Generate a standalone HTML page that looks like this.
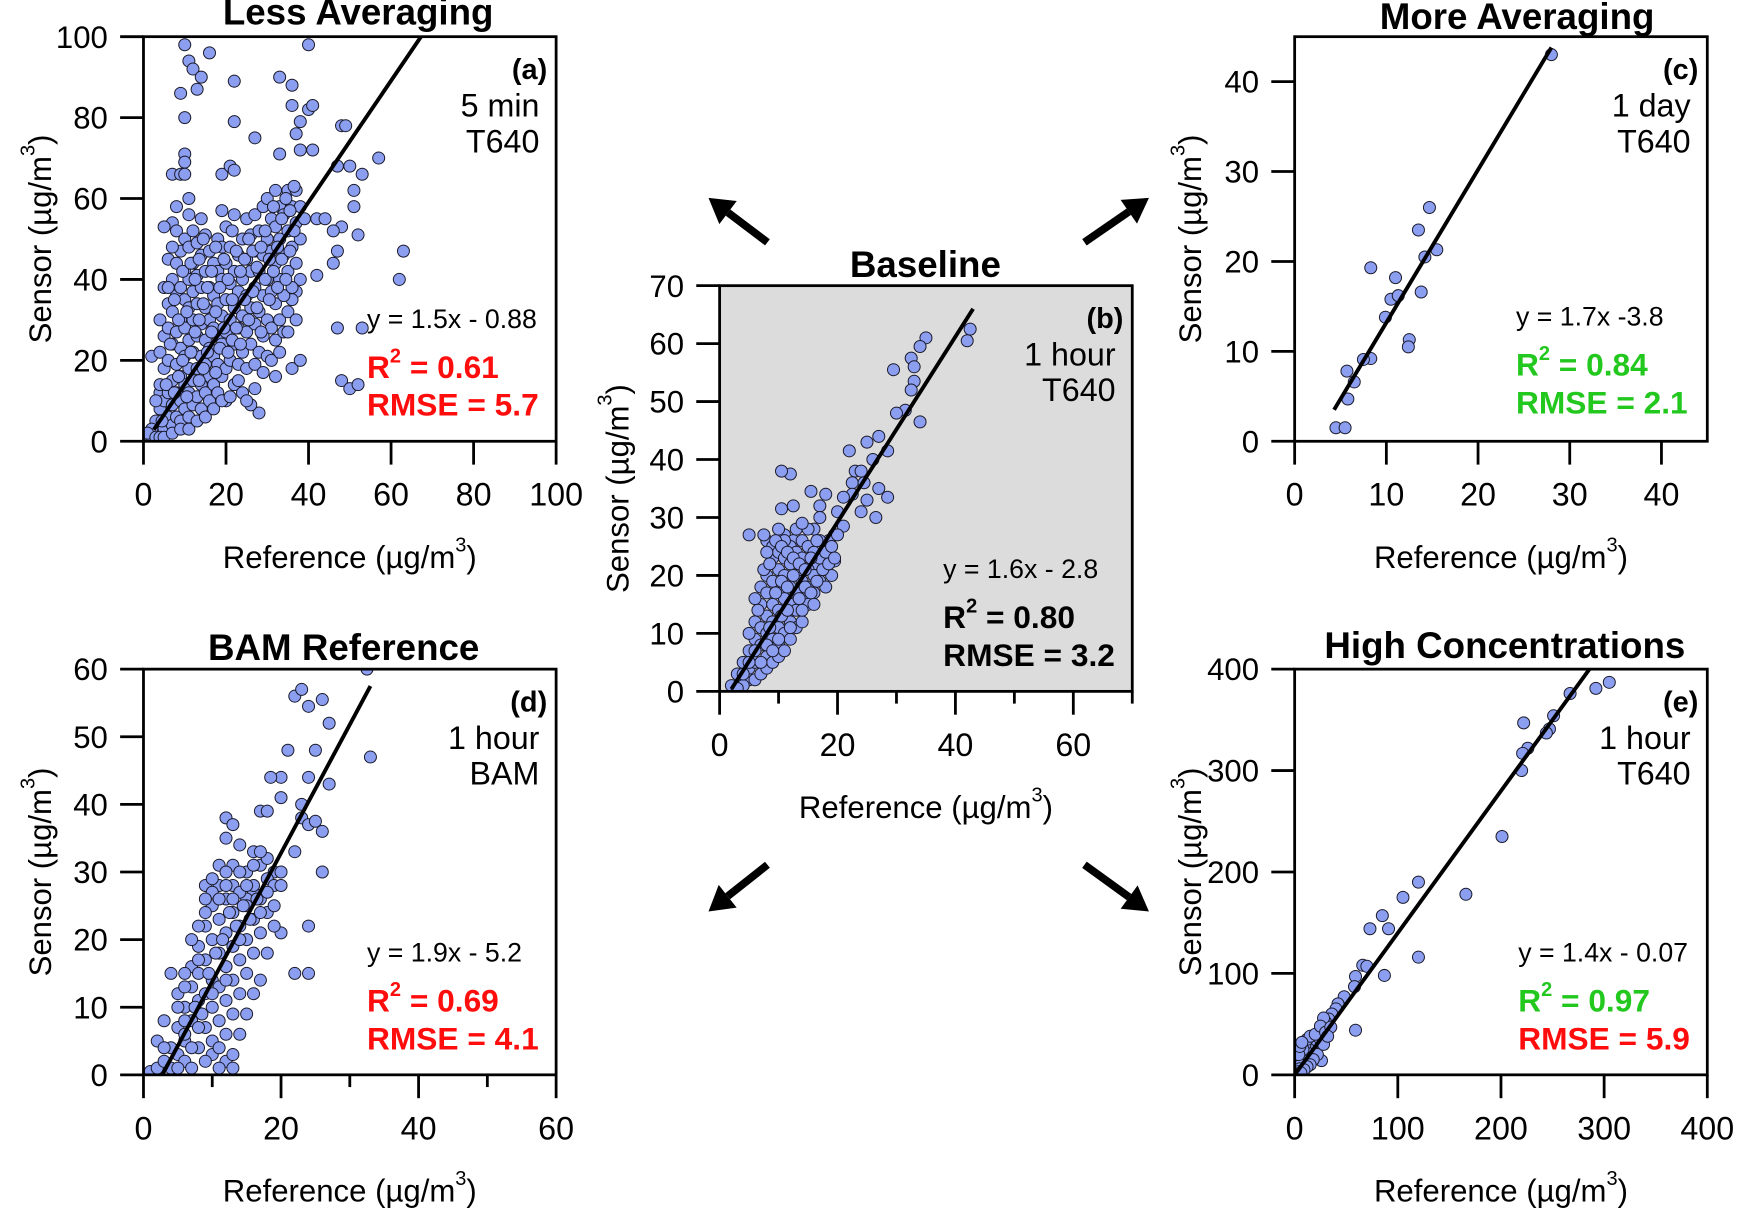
<!DOCTYPE html>
<html><head><meta charset="utf-8"><style>
html,body{margin:0;padding:0;background:#fff;}
svg{display:block;font-family:"Liberation Sans",Arial,sans-serif;}
</style></head><body>
<svg id="fig" width="1744" height="1216" viewBox="0 0 1568 1094" preserveAspectRatio="none" xmlns="http://www.w3.org/2000/svg">
<rect width="1568" height="1094" fill="#fff"/>
<g id="arrows" stroke="#000" stroke-width="7" fill="#000"></g>
</svg>
<script>
// ---- data arrays ----
const dataA = [[10,98],[40,98],[11,94],[12,92],[16,96],[14,90],[13,87],[9,86],[22,89],[33,90],[36,88],[36,83],[40,82],[41,83],[10,80],[22,79],[38,79],[37,76],[27,75],[33,71],[38,72],[41,72],[10,71],[10,69],[7,66],[9,66],[10,66],[19,66],[21,68],[22,67],[47,68],[48,78],[49,78],[50,68],[57,70],[53,66],[51,62],[51,58],[48,53],[52,51],[42,55],[44,55],[46,52],[47,47],[46,44],[42,41],[38,40],[37,37],[36,35],[47,28],[53,28],[62,40],[63,47],[48,15],[50,13],[52,14],[36,18],[38,20],[32,16],[28,7],[7,54],[5,53],[11,60],[2,21],[4,12],
[3,2],[3,5],[4,8],[4,14],[4,22],[4,30],[5,3],[5,10],[5,18],[5,26],[5,38],[6,6],[6,12],[6,20],[6,28],[6,34],[6,45],[7,4],[7,9],[7,15],[7,24],[7,32],[7,40],[8,6],[8,12],[8,19],[8,27],[8,36],[8,44],[8,52],[9,5],[9,10],[9,16],[9,23],[9,30],[9,38],[9,47],[10,8],[10,14],[10,21],[10,28],[10,35],[10,42],[10,50],[11,6],[11,12],[11,18],[11,25],[11,33],[11,40],[11,48],[11,56],[12,9],[12,15],[12,22],[12,30],[12,37],[12,44],[12,52],[13,11],[13,18],[13,26],[13,34],[13,41],[13,49],[14,8],[14,14],[14,21],[14,29],[14,38],[14,46],[14,55],[15,12],[15,19],[15,25],[15,33],[15,42],[15,51],[16,10],[16,16],[16,23],[16,30],[16,38],[16,47],[17,14],[17,21],[17,28],[17,36],[17,44],[18,12],[18,19],[18,26],[18,34],[18,42],[18,50],[19,16],[19,24],[19,31],[19,40],[19,48],[19,57],[20,10],[20,18],[20,27],[20,35],[20,44],[20,53],[21,20],[21,30],[21,39],[21,48],[22,14],[22,24],[22,33],[22,42],[22,56],[23,19],[23,28],[23,37],[23,46],[24,12],[24,22],[24,31],[24,40],[24,50],[25,18],[25,27],[25,36],[25,45],[25,55],[26,9],[26,24],[26,33],[26,42],[26,51],[27,19],[27,29],[27,38],[27,47],[27,56],[28,22],[28,32],[28,42],[28,52],[29,26],[29,36],[29,46],[29,58],[30,21],[30,30],[30,40],[30,50],[30,60],[31,28],[31,37],[31,47],[31,55],[32,25],[32,34],[32,44],[32,53],[32,62],[33,30],[33,40],[33,50],[33,58],[34,27],[34,36],[34,46],[34,56],[35,32],[35,42],[35,52],[35,62],[36,38],[36,48],[36,58],[37,44],[37,54],[37,62],[38,50],[38,58],[39,55],[1,1],[2,1],[2,3],[1,2],[3,1],[4,1],[5,1],
[4.5,5],[5.5,14],[6.5,24],[7.5,12],[7.5,35],[8.5,16],[8.5,30],[9.5,20],[9.5,42],[10.5,11],[10.5,32],[11.5,22],[11.5,44],[12.5,27],[12.5,40],[13.5,15],[13.5,30],[13.5,45],[14.5,18],[14.5,34],[14.5,50],[15.5,22],[15.5,38],[16.5,27],[16.5,42],[17.5,17],[17.5,32],[17.5,48],[18.5,23],[18.5,38],[19.5,28],[19.5,45],[20.5,22],[20.5,40],[21.5,25],[21.5,35],[21.5,52],[22.5,28],[22.5,47],[23.5,24],[23.5,42],[24.5,35],[24.5,45],[25.5,30],[25.5,50],[26.5,37],[26.5,47],[27.5,33],[27.5,43],[28.5,27],[28.5,48],[29.5,40],[29.5,52],[30.5,35],[30.5,45],[31.5,42],[31.5,58],[32.5,38],[32.5,48],[33.5,45],[33.5,55],[34.5,40],[34.5,60],[35.5,47],[35.5,57],[36.5,52],[36.5,63],[7,2],[9,3],[11,3],[13,5],[15,6],[17,8],[19,10],[21,11],[23,15],[25,10],[27,13],[29,17],[31,20],[33,22],[35,27],[37,30],[6,38],[7,48],[8,58],[3,10]];
const dataB = [[42.5,62.5],[42,60.5],[35,61],[34,59.5],[32.5,57.5],[33,56],[29.5,55.5],[33,53.5],[32.5,52],[31.5,48.5],[34,46.5],[30,48],[27,44],[28.5,41.5],[25,43],[22,41.5],[26,40],[23,38],[24,38],[22.5,36],[24.5,36],[27,35],[22.5,34],[25,33],[21,33.5],[24,31],[26.5,30],[28.5,33.5],[18,34],[20,31],[21,28.5],[19.5,27],[15.5,34.5],[17,32],[17,30],[16,28],[18.5,26],[12,37.5],[10.5,38],[10.5,31.5],[12.5,32],[11,27],[12.5,26],[19.5,22.5],[16,22],[8,26],[9,25],[5,27],[7.5,27],
[3,3],[4,2],[5,4],[5,7],[6,5],[6,9],[6,12],[7,8],[7,11],[7,15],[7,18],[8,6],[8,10],[8,13],[8,17],[8,20],[9,9],[9,12],[9,15],[9,19],[9,23],[10,8],[10,11],[10,14],[10,17],[10,21],[10,24],[11,10],[11,13],[11,16],[11,20],[11,23],[12,9],[12,12],[12,15],[12,18],[12,22],[12,25],[13,11],[13,14],[13,17],[13,20],[13,24],[14,12],[14,16],[14,19],[14,23],[14,26],[15,15],[15,18],[15,21],[15,25],[16,17],[16,20],[16,24],[17,19],[17,23],[17,26],[18,21],[18,24],[19,20],[19,25],[20,27],[5,2],[4,1],[2,1],[3,0.5],[6,2],[7,3],[8,4],[9,5],[10,6],[11,7],[8,24],[6,16],[4,3],[5,10],[13,28],[15,28],[11,26],[16,15],[18,18],[10,28],[14,29],
[6.5,14],[7.5,21],[8.5,11],[8.5,22],[9.5,17],[9.5,26],[10.5,13],[10.5,19],[10.5,25],[11.5,14],[11.5,18],[11.5,24],[12.5,20],[12.5,23],[13.5,16],[13.5,22],[14.5,18],[14.5,21],[15.5,17],[15.5,23],[16.5,19],[16.5,26],[17.5,21],[18.5,22],[19.5,23],[7,5],[8,8],[9,7],[10,9],[12,11],[14,14],[4,5],[5,5],[6,7]];
const dataC = [[28,43],[14.7,26],[13.5,23.5],[14.2,20.5],[15.5,21.3],[13.8,16.6],[11,18.2],[8.3,19.3],[10.5,15.8],[11.3,16.2],[9.9,13.8],[12.5,11.3],[12.4,10.5],[8.3,9.2],[7.5,9.1],[5.7,7.8],[6.5,6.6],[5.8,4.7],[4.5,1.5],[5.5,1.5]];
const dataD = [[32.5,60],[33,47],[22,56],[23,57],[24,54.5],[26,55.5],[27,52],[25,48],[27,43],[24,44],[21,48],[20,44],[18.5,44],[20,41],[23,40],[23,38],[24,37],[25,37.5],[26,36],[17,39],[18,39],[12,38],[12,35],[13,37],[14,34],[16,33],[19,30],[22,33],[26,30],[24,22],[20,21],[24,15],[22,15],[13,31],[11,31],[17,31],[16,27],[15,26],
[1,0.5],[2,1],[3,2],[2,5],[4,1],[5,3],[5,7],[6,2],[6,5],[6,10],[7,1],[7,8],[7,13],[7,16],[8,4],[8,11],[8,15],[8,19],[9,7],[9,12],[9,17],[9,22],[10,3],[10,10],[10,14],[10,20],[10,25],[11,8],[11,13],[11,18],[11,23],[12,6],[12,11],[12,16],[12,21],[12,26],[13,9],[13,14],[13,19],[13,24],[13,28],[14,12],[14,17],[14,22],[14,27],[15,15],[15,20],[15,25],[15,30],[16,18],[16,23],[16,28],[17,21],[17,26],[18,24],[18,29],[19,28],[20,28],[4,4],[3,8],[5,12],[6,15],[8,22],[9,24],[4,15],[3,4],[6,8],[8,7],[10,5],[11,4],[12,2],[13,3],[14,6],[15,9],[16,12],[17,14],[18,18],[19,22],[7,20],[9,28],[11,28],[12,30],[10,27],[5,10],[6,13],[18,32],[17,33],
[9,26],[10,29],[11,26],[12,28],[13,26],[14,30],[15,28],[16,31],[7.5,10],[8.5,9],[9.5,15],[10.5,18],[11.5,20],[12.5,24],[13.5,22],[14.5,25],[15.5,23],[16.5,26],[8,17],[10,12],[12,14],[14,20],[7,4],[9,2],[11,1],[13,1],[5,1],[6,6],[17,24],[18,27],[19,25],[20,30]];
const dataE = [[305,387],[292,381],[267,376],[251,354],[247,341],[244,337],[222,347],[226,322],[221,317],[220,300],[201,235],[166,178],[120,190],[105,175],[120,116],[91,144],[85,157],[73,144],[87,98],[66,108],[70,107],[59,97],[59,44],[58,87],[48,77],[42,70],[40,65],[36,60],[33,55],[30,52],[28,56],[26,45],[25,40],[22,38],[20,35],[18,30],[16,28],[14,25],[12,22],[10,18],[8,14],[6,10],[5,6],[3,3],[2,1],[10,30],[8,25],[12,35],[15,38],[20,40],[25,48],[30,42],[35,47],[26,14],[22,20],[18,15],[15,10],[12,8],[9,5],[6,2],[4,20],[5,28],[7,32],[28,30],[32,38]];
const fitA=[1.5,-0.88], fitB=[1.6,-2.8], fitC=[1.7,-3.8], fitD=[1.9,-5.2], fitE=[1.4,-0.07];
const ticksA=[0,20,40,60,80,100], ticksB=[0,10,20,30,40,50,60,70], ticksBx=[0,20,40,60], ticksC=[0,10,20,30,40], ticksD=[0,10,20,30,40,50,60], ticksDx=[0,20,40,60], ticksE=[0,100,200,300,400];

const NS='http://www.w3.org/2000/svg';
const svg=document.getElementById('fig');
function mk(tag,attrs,parent){const e=document.createElementNS(NS,tag);for(const k in attrs)e.setAttribute(k,attrs[k]);(parent||svg).appendChild(e);return e;}
function txt(parent,x,y,s,size,anchor,weight,fill){const t=mk('text',{x:x,y:y,'font-size':size,'text-anchor':anchor||'start','font-weight':weight||'normal',fill:fill||'#000'},parent);t.textContent=s;return t;}

function panel(o){
  const g=mk('g',{});
  
  
  const sx=v=>o.L+(v-o.xmin)/(o.xmax-o.xmin)*(o.R-o.L);
  const sy=v=>o.B-(v-o.ymin)/(o.ymax-o.ymin)*(o.B-o.T);
  mk('rect',{x:o.L,y:o.T,width:o.R-o.L,height:o.B-o.T,fill:o.bg||'#fff'},g);
  const cid='clip'+o.id;
  const cp=mk('clipPath',{id:cid},g);mk('rect',{x:o.L,y:o.T,width:o.R-o.L,height:o.B-o.T},cp);
  const pts=mk('g',{'clip-path':'url(#'+cid+')'},g);
  
  
  o.data.forEach(p=>{const c=mk('circle',{cx:sx(p[0]),cy:sy(p[1]),r:5.4,fill:'#8b9ef0',stroke:'#1a1a2a','stroke-width':0.9},pts);
    
    });
  const fx0=o.fitX[0],fx1=o.fitX[1];
  const ln=mk('line',{x1:sx(fx0),y1:sy(o.fit[0]*fx0+o.fit[1]),x2:sx(fx1),y2:sy(o.fit[0]*fx1+o.fit[1]),stroke:'#000','stroke-width':3.5,'clip-path':'url(#'+cid+')'},g);
  
  
  mk('rect',{x:o.L,y:o.T,width:o.R-o.L,height:o.B-o.T,fill:'none',stroke:'#000','stroke-width':2.5},g);
  o.xticks.forEach(v=>{mk('line',{x1:sx(v),y1:o.B,x2:sx(v),y2:o.B+21,stroke:'#000','stroke-width':2.5},g);
    const t=txt(g,sx(v),o.B+58,String(v),29,'middle');});
  (o.xminor||[]).forEach(v=>mk('line',{x1:sx(v),y1:o.B,x2:sx(v),y2:o.B+11,stroke:'#000','stroke-width':2.5},g));
  o.yticks.forEach(v=>{mk('line',{x1:o.L-21,y1:sy(v),x2:o.L,y2:sy(v),stroke:'#000','stroke-width':2.5},g);
    const t=txt(g,o.L-32,sy(v)+10,String(v),28,'end');});
  (o.yminor||[]).forEach(v=>mk('line',{x1:o.L-11,y1:sy(v),x2:o.L,y2:sy(v),stroke:'#000','stroke-width':2.5},g));
  const cx=(o.L+o.R)/2;
  const xl=mk('text',{x:cx,y:o.B+114,'font-size':28,'text-anchor':'middle'},g);
  xl.innerHTML='Reference (µg/m<tspan dy="-15" font-size="18">3</tspan><tspan dy="15">)</tspan>';
  
  const cy=(o.T+o.B)/2;
  const yl=mk('text',{x:0,y:0,'font-size':28,'text-anchor':'middle',transform:'translate('+(o.ylx)+','+cy+') rotate(-90)'},g);
  yl.innerHTML='Sensor (µg/m<tspan dy="-15" font-size="18">3</tspan><tspan dy="15">)</tspan>';
  
  const tt=txt(g,o.title[1],o.title[2],o.title[0],33,'middle','bold');
  
  const R=o.R-8;
  txt(g,R,o.T+38,o.tag,26,'end','bold');
  txt(g,R-7,o.T+72,o.l1,29,'end');
  txt(g,R-7,o.T+104,o.l2,29,'end');
  const eq=txt(g,o.ax,o.eqY,o.eq,24,'start');
  const r2=mk('text',{x:o.ax,y:o.eqY+45,'font-size':28.5,'font-weight':'bold',fill:o.c1},g);
  r2.innerHTML='R<tspan dy="-14" font-size="18">2</tspan><tspan dy="14"> = '+o.r2+'</tspan>';
  
  txt(g,o.ax,o.eqY+79,'RMSE = '+o.rmse,28.5,'start','bold',o.c2);
}

const red='#ff0d0d', green='#22c81e';
panel({id:'a',name:'panel-a-less-averaging',L:129,R:500,T:33,B:397,xmin:0,xmax:100,ymin:0,ymax:100,data:dataA,fit:fitA,fitX:[2.5,80],
  xticks:ticksA,yticks:ticksA,ylx:46,title:['Less Averaging',322,22],tag:'(a)',l1:'5 min',l2:'T640',ax:330,eqY:295,eq:'y = 1.5x - 0.88',r2:'0.61',rmse:'5.7',c1:red,c2:red});
panel({id:'b',name:'panel-b-baseline',L:647,R:1018,T:257,B:622,xmin:0,xmax:70,ymin:0,ymax:70,data:dataB,fit:fitB,fitX:[2,43],bg:'#dcdcdc',
  xticks:ticksBx,xminor:[10,30,50,70],yticks:ticksB,ylx:565,title:['Baseline',832,249],tag:'(b)',l1:'1 hour',l2:'T640',ax:848,eqY:520,eq:'y = 1.6x - 2.8',r2:'0.80',rmse:'3.2',c1:'#000',c2:'#000'});
panel({id:'c',name:'panel-c-more-averaging',L:1164,R:1535,T:33,B:397,xmin:0,xmax:45,ymin:0,ymax:45,data:dataC,fit:fitC,fitX:[4.3,28],
  xticks:ticksC,yticks:ticksC,ylx:1080,title:['More Averaging',1364,26],tag:'(c)',l1:'1 day',l2:'T640',ax:1363,eqY:293,eq:'y = 1.7x -3.8',r2:'0.84',rmse:'2.1',c1:green,c2:green});
panel({id:'d',name:'panel-d-bam-reference',L:129,R:500,T:602,B:967,xmin:0,xmax:60,ymin:0,ymax:60,data:dataD,fit:fitD,fitX:[2.7,33],
  xticks:ticksDx,xminor:[10,30,50],yticks:ticksD,ylx:46,title:['BAM Reference',309,594],tag:'(d)',l1:'1 hour',l2:'BAM',ax:330,eqY:865,eq:'y = 1.9x - 5.2',r2:'0.69',rmse:'4.1',c1:red,c2:red});
panel({id:'e',name:'panel-e-high-concentrations',L:1164,R:1535,T:602,B:967,xmin:0,xmax:400,ymin:0,ymax:400,data:dataE,fit:fitE,fitX:[0,300],
  xticks:ticksE,yticks:ticksE,ylx:1080,title:['High Concentrations',1353,592],tag:'(e)',l1:'1 hour',l2:'T640',ax:1365,eqY:865,eq:'y = 1.4x - 0.07',r2:'0.97',rmse:'5.9',c1:green,c2:red});

const ag=document.getElementById('arrows');
[[690,218,637,178],[975,218,1033,178],[690,778,637,820],[975,778,1033,820]].forEach(a=>{
  const [x1,y1,x2,y2]=a;const dx=x2-x1,dy=y2-y1,l=Math.hypot(dx,dy),ux=dx/l,uy=dy/l;
  const bx=x2-ux*22,by=y2-uy*22;
  const l1=mk('line',{x1:x1,y1:y1,x2:bx,y2:by},ag);
  
  
  const p=mk('polygon',{points:x2+','+y2+' '+(bx-uy*13)+','+(by+ux*13)+' '+(bx+uy*13)+','+(by-ux*13),stroke:'none'},ag);
  
  
});
</script>
</body></html>
